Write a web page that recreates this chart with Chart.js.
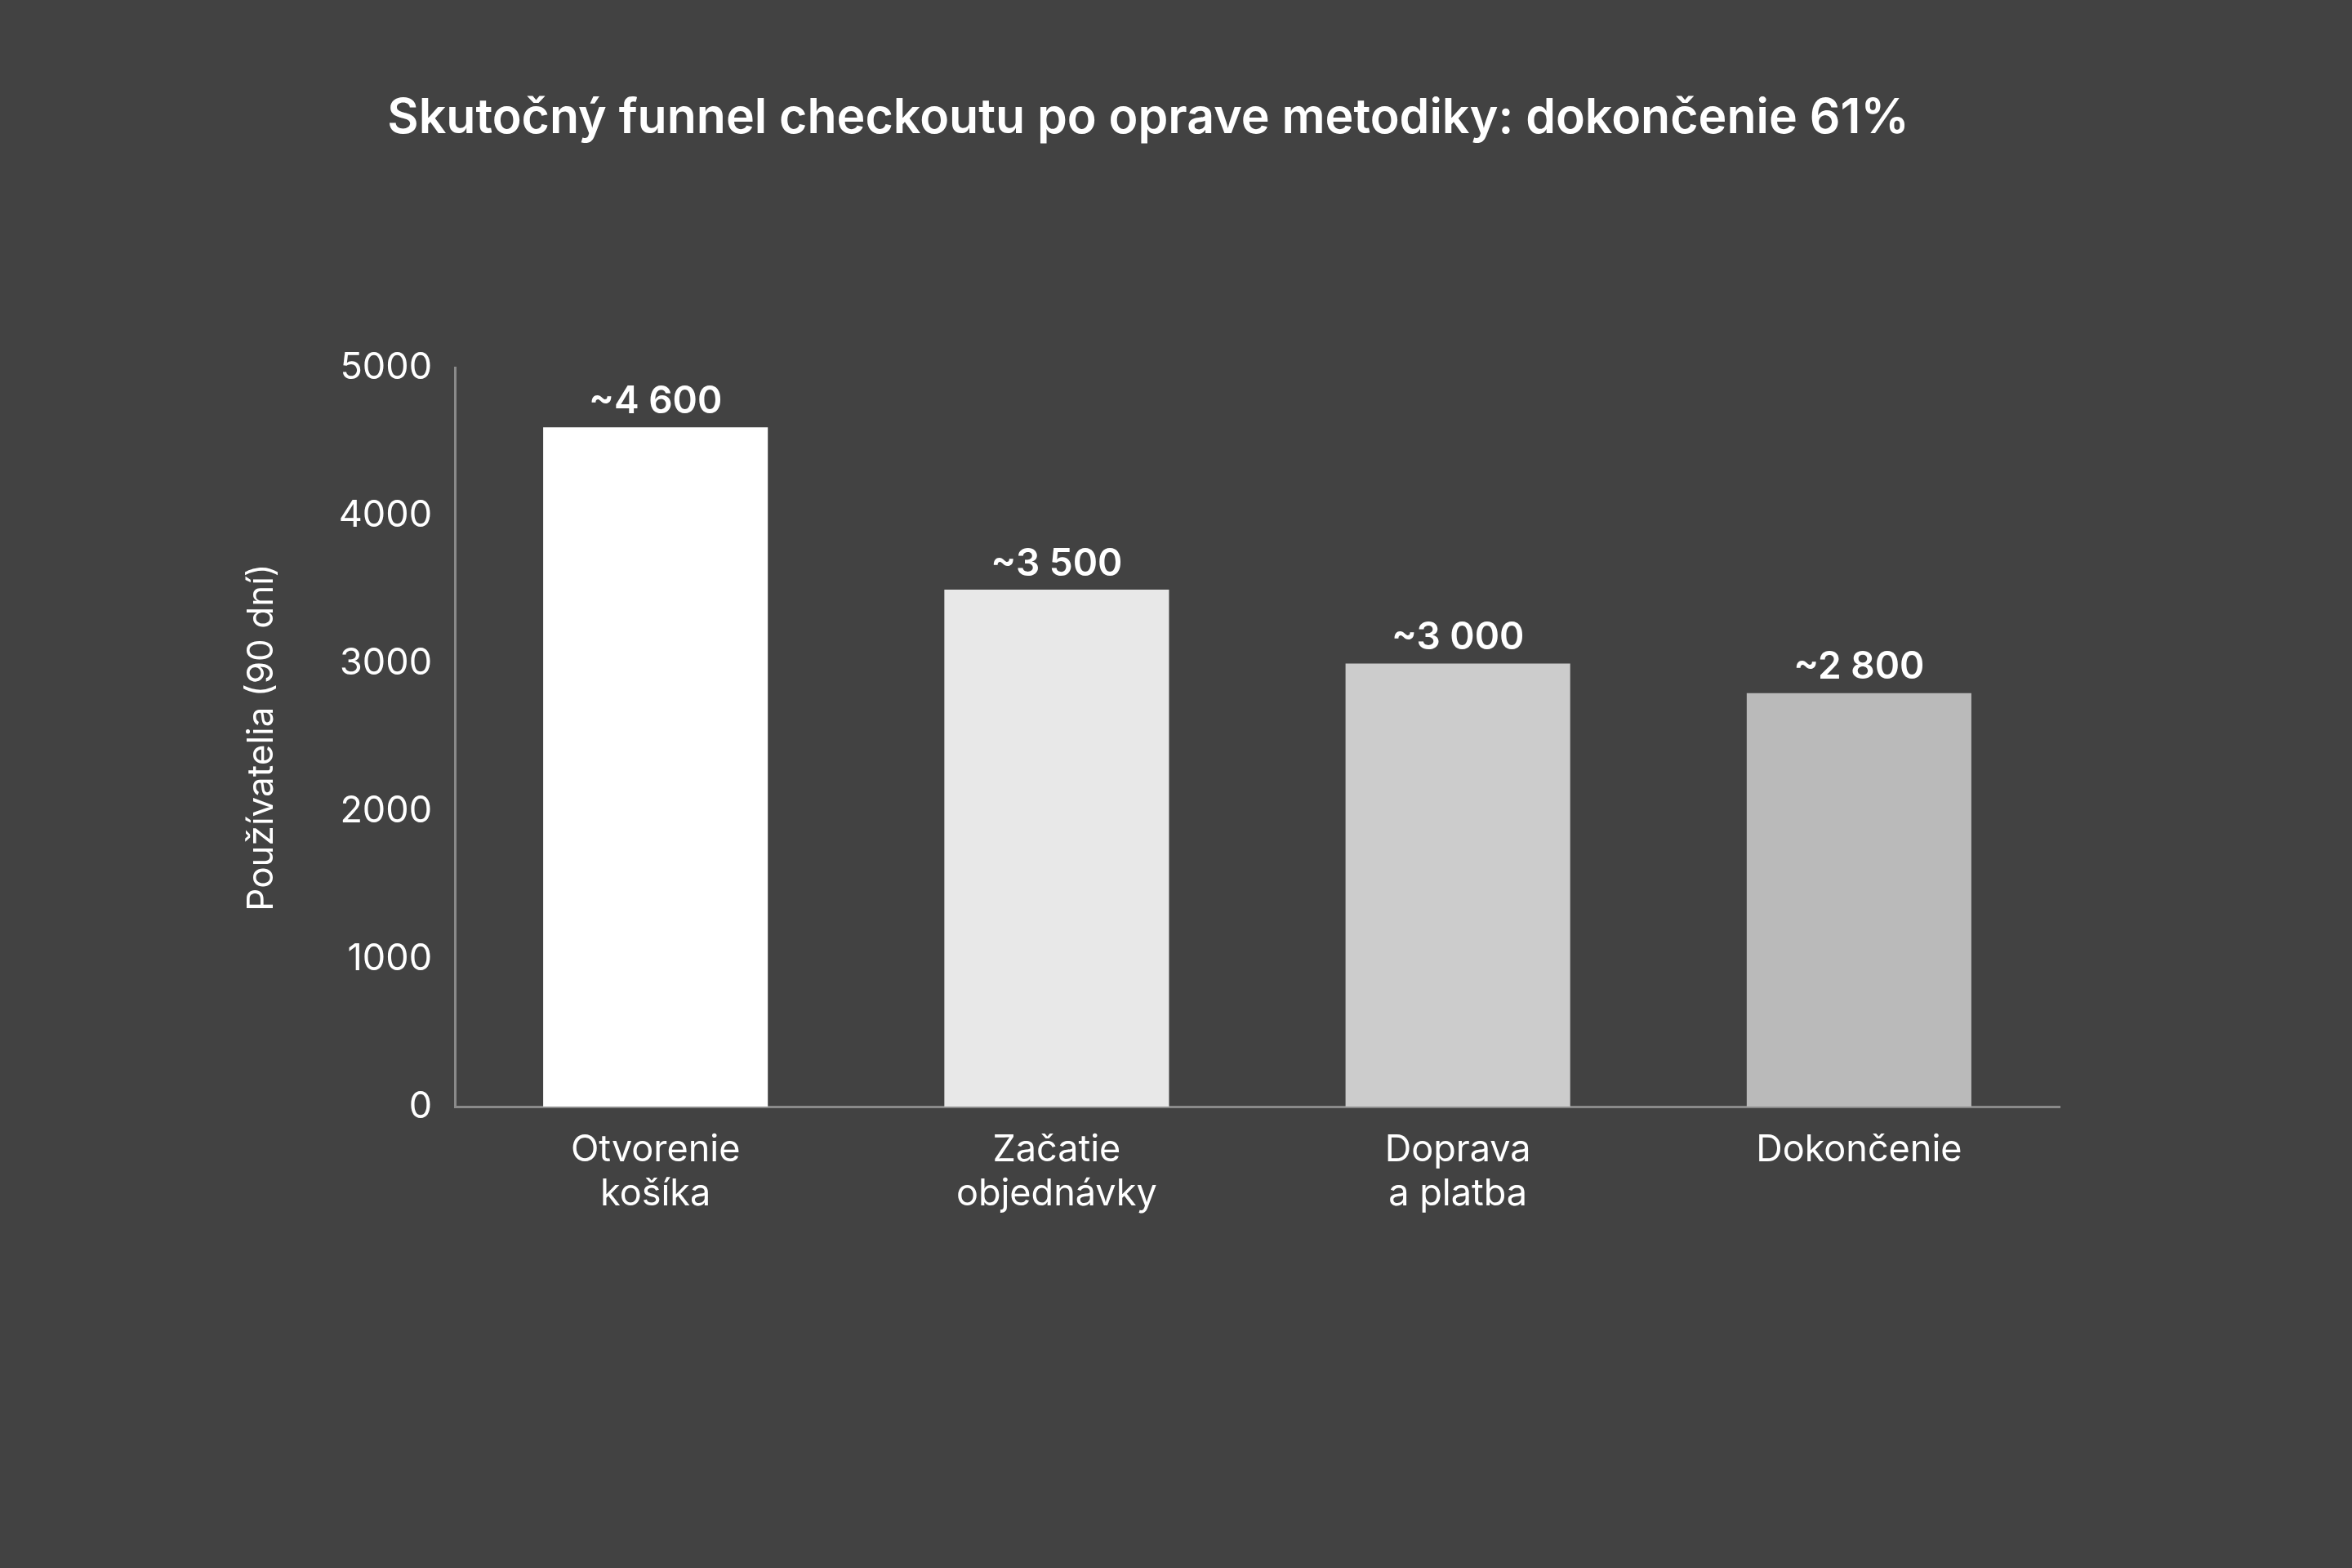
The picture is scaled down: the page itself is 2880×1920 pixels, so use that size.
<!DOCTYPE html>
<html><head><meta charset="utf-8">
<script src="https://cdn.jsdelivr.net/npm/chart.js@4.4.0/dist/chart.umd.min.js"></script>
<style>html,body{margin:0;padding:0;background:#424242;}canvas{display:block;}</style>
</head><body>
<canvas id="c" width="2880" height="1920"></canvas>
<script>
const categories = [["Otvorenie","košíka"],["Začatie","objednávky"],["Doprava","a platba"],["Dokončenie"]];
const values = [4600, 3500, 3000, 2800];
const valueLabels = ["~4 600","~3 500","~3 000","~2 800"];
const barColors = ["#ffffff","#e8e8e8","#cccccc","#bababa"];
const titleText = "Skutočný funnel checkoutu po oprave metodiky: dokončenie 61%";
const yTitle = "Používatelia (90 dní)";

const labelPlugin = {
  id:'vl',
  afterDatasetsDraw(chart){
    const ctx = chart.ctx;
    const meta = chart.getDatasetMeta(0);
    ctx.save();
    ctx.fillStyle = '#ffffff';
    ctx.font = '600 46px Inter';
    ctx.textAlign = 'center';
    ctx.textBaseline = 'bottom';
    meta.data.forEach((b,i)=>{ ctx.fillText(valueLabels[i], b.x, b.y - 8); });
    ctx.restore();
  }
};

new Chart(document.getElementById('c'), {
  type:'bar',
  data:{ labels: categories, datasets:[{ data: values, backgroundColor: barColors, categoryPercentage: 0.56, barPercentage: 1 }]},
  options:{
    responsive:false, animation:false, devicePixelRatio:1,
    layout:{ padding:{ left:290, right:358, top:90, bottom:405 } },
    plugins:{
      legend:{display:false}, tooltip:{enabled:false},
      title:{ display:true, text:titleText, color:'#ffffff', font:{family:'Inter', size:59, weight:'600'}, padding:{top:20, bottom:270} }
    },
    scales:{
      x:{ grid:{display:false, drawTicks:false}, border:{color:'#8a8a8a', width:3},
          ticks:{ color:'#ffffff', font:{family:'Inter', size:45}, padding:26 } },
      y:{ min:0, max:5000, grid:{display:false, drawTicks:false}, border:{color:'#8a8a8a', width:3},
          ticks:{ stepSize:1000, color:'#ffffff', font:{family:'Inter', size:45}, padding:28, callback:(v)=>String(v) },
          title:{ display:true, text:yTitle, color:'#ffffff', font:{family:'Inter', size:44}, padding:{bottom:40} } }
    }
  },
  plugins:[labelPlugin]
});
</script>
</body></html>
